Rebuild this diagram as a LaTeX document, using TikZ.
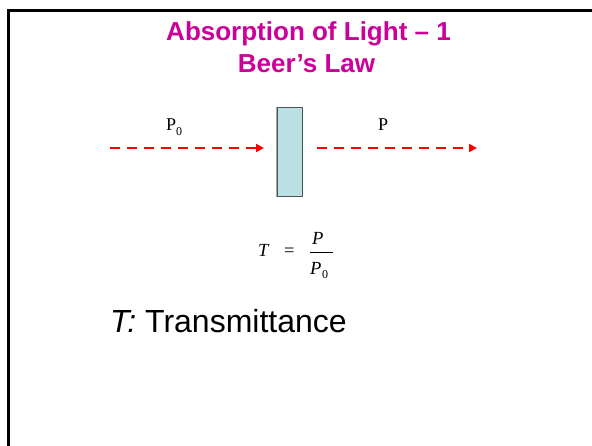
\documentclass[tikz,border=0pt]{standalone}
\usepackage{fontspec}
\setmainfont{Liberation Serif}
\newfontfamily\arialf{Liberation Sans}
\usetikzlibrary{arrows.meta}
\definecolor{titlemag}{HTML}{CC0099}
\definecolor{cellfill}{HTML}{BAE0E3}
\definecolor{cellline}{HTML}{4A5558}
\tikzset{
  beam/.style={draw=red, line width=2.5pt, dash pattern=on 10pt off 7pt,
    -{Triangle[length=8pt,width=8pt]}},
  titletext/.style={anchor=base, inner sep=0pt, text=titlemag,
    font=\arialf\bfseries\fontsize{26}{31}\selectfont},
  lbl/.style={anchor=base west, inner sep=0pt, font=\fontsize{18}{20}\selectfont},
  eq/.style={anchor=base west, inner sep=0pt, font=\fontsize{18.5}{20}\selectfont},
  bigtext/.style={anchor=base west, inner sep=0pt, font=\arialf\fontsize{32}{38}\selectfont},
}
\begin{document}
\begin{tikzpicture}[x=1pt,y=-1pt]
\useasboundingbox (0,0) rectangle (592,446);
% frame
\draw[line width=3pt, line cap=rect] (592,11) -- (8,11) -- (8,446);
% title
\node[titletext] (t1) at (308.5,41) {Absorption of Light – 1};
\node[titletext] (t2) at (306.5,73) {Beer’s Law};
% cell
\node[draw=cellline, fill=cellfill, line width=1pt, minimum width=25pt,
  minimum height=89pt, inner sep=0pt] (cell) at (289.5,152.5) {};
\draw[gray!70, line width=1pt] (cell.south west) -- (cell.north west);
% beams
\coordinate (a1) at (110,148);
\coordinate (a2) at (264,148);
\coordinate (b1) at (317,148);
\coordinate (b2) at (477,148);
\draw[beam] (a1) -- (a2);
\draw[beam] (b1) -- (b2);
% labels
\node[lbl] (p0) at (166,131) {P\raisebox{-0.25em}{\fontsize{12}{12}\selectfont 0}};
\node[lbl] (p) at (378,131) {P};
% formula
\node[eq] (T) at (258,257) {\itshape T};
\node[eq] (eqs) at (284,257) {=};
\node[eq] (num) at (312,245) {\itshape P};
\node[eq] (den) at (310,275) {\itshape P\kern0.5pt\raisebox{-0.2em}{\fontsize{12}{12}\selectfont\upshape 0}};
\coordinate (f1) at (310,252);
\coordinate (f2) at (333,252);
\draw[line width=0.9pt] (f1) -- (f2);
% T: Transmittance
\node[bigtext] (tr) at (110,333) {\itshape T:\upshape{} Transmittance};
\end{tikzpicture}
\end{document}
